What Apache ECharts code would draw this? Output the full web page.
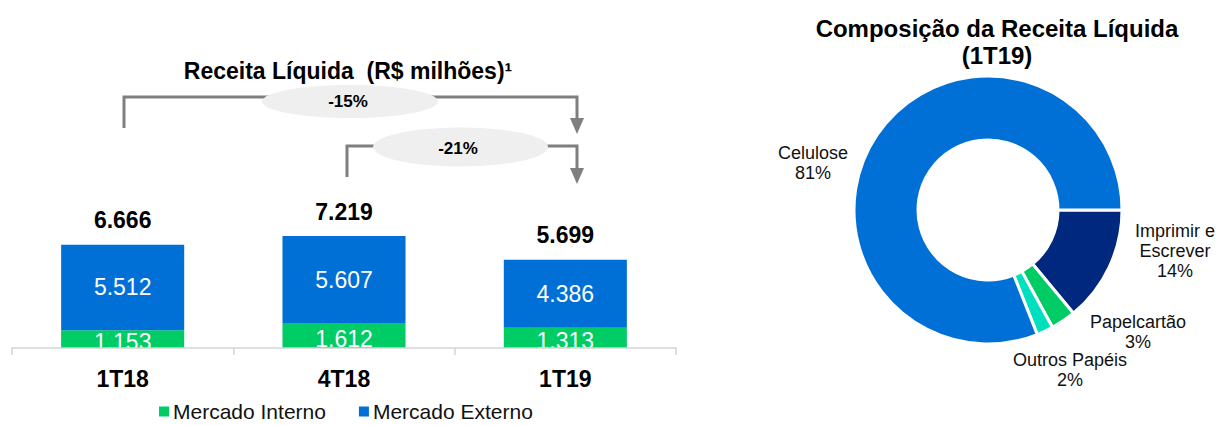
<!DOCTYPE html>
<html>
<head>
<meta charset="utf-8">
<script src="https://cdn.jsdelivr.net/npm/echarts@6/dist/echarts.min.js"></script>
<style>
html,body{margin:0;padding:0;background:#fff;}
#main{width:1217px;height:425px;}
</style>
</head>
<body>
<div id="main"></div>
<script>
// ---- Data ----
const categories = ['1T18', '4T18', '1T19'];
const mercadoInterno = [1153, 1612, 1313];
const mercadoExterno = [5512, 5607, 4386];
const totals = [6666, 7219, 5699];
const changeLabels = ['-15%', '-21%'];

const pieNames = ['Imprimir e\nEscrever', 'Papelcartão', 'Outros Papéis', 'Celulose'];
const pieValues = [14, 3, 2, 81];

// ---- Styles ----
const FONT = '"Liberation Sans", Arial, Helvetica, sans-serif';
const BLUE = '#0070d6';
const GREEN = '#00cc66';
const NAVY = '#00287f';
const TURQ = '#00e0bf';
const GRAY = '#7f7f7f';
const pieColors = [NAVY, GREEN, TURQ, BLUE];
const pieLabelPos = [[1175, 251], [1138, 332], [1070, 370], [813, 163]];

const fmt = v => (v / 1000).toFixed(3);

const chart = echarts.init(document.getElementById('main'), null, {renderer: 'svg'});

const option = {
  animation: false,
  backgroundColor: '#fff',
  textStyle: {fontFamily: FONT},
  grid: {left: 12, right: 541, top: 38, bottom: 77},
  legend: {
    data: ['Mercado Interno', 'Mercado Externo'],
    left: 159, top: 401, padding: 0,
    icon: 'rect', itemWidth: 10, itemHeight: 10, itemGap: 33,
    textStyle: {fontSize: 21, color: '#111', fontFamily: FONT, padding: [0, 0, 0, -1]}
  },
  xAxis: {
    type: 'category', data: categories, z: 20,
    axisLine: {lineStyle: {color: '#d4d4d4', width: 1.5}},
    axisTick: {show: true, length: 7, lineStyle: {color: '#d4d4d4', width: 1.5}},
    axisLabel: {fontSize: 23, fontWeight: 'bold', color: '#000', margin: 19, fontFamily: FONT}
  },
  yAxis: {type: 'value', min: 0, max: 20000, show: false, splitLine: {show: false}},
  series: [
    {
      name: 'Mercado Interno', type: 'bar', stack: 'r', data: mercadoInterno,
      barWidth: '55.6%', itemStyle: {color: GREEN},
      label: {show: true, position: 'inside', offset: [0, 3], color: '#fff', fontSize: 23, fontFamily: FONT, formatter: p => fmt(p.value)}
    },
    {
      name: 'Mercado Externo', type: 'bar', stack: 'r', data: mercadoExterno,
      itemStyle: {color: BLUE},
      label: {show: true, position: 'inside', color: '#fff', fontSize: 23, fontFamily: FONT, formatter: p => fmt(p.value)}
    },
    {
      name: 'Total', type: 'scatter', data: totals, symbolSize: 0, silent: true,
      itemStyle: {opacity: 1},
      label: {show: true, position: 'top', distance: 13, color: '#000', opacity: 1, fontSize: 23, fontWeight: 'bold', fontFamily: FONT, formatter: p => fmt(p.value)}
    },
    {
      name: 'Composição', type: 'pie', center: [988, 210], radius: [70, 134],
      startAngle: 0, clockwise: true,
      data: pieNames.map((n, i) => ({name: n, value: pieValues[i], itemStyle: {color: pieColors[i]}})),
      itemStyle: {borderColor: '#fff', borderWidth: 3},
      label: {show: true, position: 'outside', overflow: 'none', formatter: '{b}\n{d}%', color: '#111', fontSize: 18, lineHeight: 20, fontFamily: FONT, align: 'center'},
      labelLine: {show: false},
      labelLayout: function (params) {
        const p = pieLabelPos[params.dataIndex];
        return {x: p[0], y: p[1], align: 'center', verticalAlign: 'middle'};
      },
      emphasis: {disabled: true}
    }
  ],
  graphic: [
    // clip overflow of labels below axis
    {type: 'rect', z: 10, shape: {x: 0, y: 349, width: 720, height: 14}, style: {fill: '#fff'}, silent: true},
    // titles
    {type: 'text', z: 30, x: 348, y: 71, style: {text: 'Receita Líquida  (R$ milhões)¹', font: 'bold 23px ' + FONT, fill: '#000', textAlign: 'center', textVerticalAlign: 'middle'}},
    {type: 'text', z: 30, x: 997, y: 28, style: {text: 'Composição da Receita Líquida', font: 'bold 24px ' + FONT, fill: '#000', textAlign: 'center', textVerticalAlign: 'middle'}},
    {type: 'text', z: 30, x: 997, y: 55, style: {text: '(1T19)', font: 'bold 24px ' + FONT, fill: '#000', textAlign: 'center', textVerticalAlign: 'middle'}},
    // bracket 1
    {type: 'polyline', z: 30, shape: {points: [[124, 128], [124, 97], [577, 97], [577, 120]]}, style: {stroke: GRAY, lineWidth: 3, fill: null}},
    {type: 'polygon', z: 30, shape: {points: [[570, 118], [584, 118], [577, 134]]}, style: {fill: GRAY}},
    {type: 'ellipse', z: 31, shape: {cx: 350, cy: 101.5, rx: 88, ry: 16.5}, style: {fill: '#efefef'}},
    {type: 'text', z: 32, x: 348, y: 101, style: {text: changeLabels[0], font: 'bold 17px ' + FONT, fill: '#000', textAlign: 'center', textVerticalAlign: 'middle'}},
    // bracket 2
    {type: 'polyline', z: 30, shape: {points: [[347, 177], [347, 146], [577, 146], [577, 170]]}, style: {stroke: GRAY, lineWidth: 3, fill: null}},
    {type: 'polygon', z: 30, shape: {points: [[570, 168], [584, 168], [577, 184]]}, style: {fill: GRAY}},
    {type: 'ellipse', z: 31, shape: {cx: 460.5, cy: 147, rx: 87.5, ry: 19.5}, style: {fill: '#efefef'}},
    {type: 'text', z: 32, x: 458, y: 148, style: {text: changeLabels[1], font: 'bold 17px ' + FONT, fill: '#000', textAlign: 'center', textVerticalAlign: 'middle'}}
  ]
};

chart.setOption(option);
</script>
</body>
</html>
